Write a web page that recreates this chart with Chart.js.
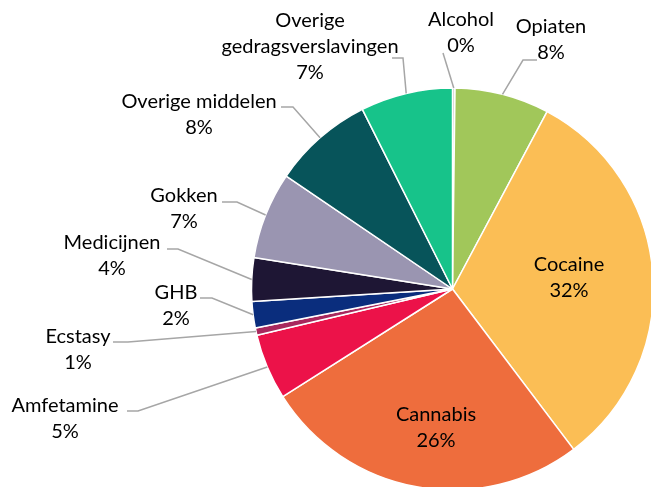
<!DOCTYPE html>
<html>
<head>
<meta charset="utf-8">
<script src="https://cdn.jsdelivr.net/npm/chart.js@4"></script>
<style>
  html, body { margin: 0; padding: 0; background: #fff; }
  #wrap { width: 651px; height: 487px; }
</style>
</head>
<body>
<div id="wrap"><canvas id="pie" width="651" height="487"></canvas></div>
<script>
// data, clockwise from the top
const categories = ["Alcohol", "Opiaten", "Cocaine", "Cannabis", "Amfetamine", "Ecstasy", "GHB",
  "Medicijnen", "Gokken", "Overige middelen", "Overige gedragsverslavingen"];
const shares = [0.2, 7.6, 31.9, 26.3, 5.3, 0.6, 2.1, 3.5, 7.0, 8.1, 7.4];
const colors = ["#BFBFBF", "#A1C75A", "#FBBE55", "#EE6D3D", "#EC1249", "#A8285D", "#0A2D7D",
  "#1E1634", "#9A95B1", "#07545A", "#17C38A"];

// label layout: text lines, centre x, first line middle y, leader attach + elbow
const labelLayout = [
  { lines: ["Alcohol"], x: 461, y: 20, attach: [443, 53], elbow: [443, 53] },
  { lines: ["Opiaten"], x: 551, y: 27, attach: [537, 60], elbow: [523, 60] },
  { lines: ["Cocaine"], x: 569, y: 265, inside: true },
  { lines: ["Cannabis"], x: 436, y: 415, inside: true },
  { lines: ["Amfetamine"], x: 65, y: 406, attach: [127, 411], elbow: [138, 411] },
  { lines: ["Ecstasy"], x: 78, y: 337, attach: [113, 342], elbow: [128, 342] },
  { lines: ["GHB"], x: 176, y: 293, attach: [200, 298], elbow: [212, 298] },
  { lines: ["Medicijnen"], x: 112, y: 243, attach: [167, 249], elbow: [178, 249] },
  { lines: ["Gokken"], x: 184, y: 196, attach: [222, 202], elbow: [237, 202] },
  { lines: ["Overige middelen"], x: 199, y: 102, attach: [281, 107], elbow: [293, 107] },
  { lines: ["Overige", "gedragsverslavingen"], x: 310, y: 21, attach: [392, 58], elbow: [403, 58] }
];

const FONT = "20px Lato";
const LINE_H = 26;

const labelPlugin = {
  id: "pieLabels",
  afterDatasetsDraw(chart) {
    const ctx = chart.ctx;
    const arcs = chart.getDatasetMeta(0).data;
    ctx.save();
    ctx.font = FONT;
    ctx.textAlign = "center";
    ctx.textBaseline = "middle";
    arcs.forEach((arc, i) => {
      const lay = labelLayout[i];
      const pct = Math.round(shares[i]) + "%";
      const lines = lay.lines.concat([pct]);
      if (!lay.inside) {
        const mid = (arc.startAngle + arc.endAngle) / 2;
        const ex = arc.x + Math.cos(mid) * arc.outerRadius;
        const ey = arc.y + Math.sin(mid) * arc.outerRadius;
        ctx.strokeStyle = "#A6A6A6";
        ctx.lineWidth = 1.5;
        ctx.beginPath();
        ctx.moveTo(lay.attach[0], lay.attach[1]);
        ctx.lineTo(lay.elbow[0], lay.elbow[1]);
        ctx.lineTo(ex, ey);
        ctx.stroke();
      }
      ctx.fillStyle = "#000";
      lines.forEach((t, k) => ctx.fillText(t, lay.x, lay.y + k * LINE_H));
    });
    ctx.restore();
  }
};

new Chart(document.getElementById("pie"), {
  type: "pie",
  data: {
    labels: categories,
    datasets: [{
      data: shares,
      backgroundColor: colors,
      borderColor: "#FFFFFF",
      borderWidth: 1.5,
      radius: 201,
      clip: false
    }]
  },
  options: {
    responsive: false,
    animation: false,
    events: [],
    layout: { padding: { left: 254, right: 0, top: 91, bottom: 0 } },
    plugins: {
      legend: { display: false },
      tooltip: { enabled: false }
    }
  },
  plugins: [labelPlugin]
});
</script>
</body>
</html>
